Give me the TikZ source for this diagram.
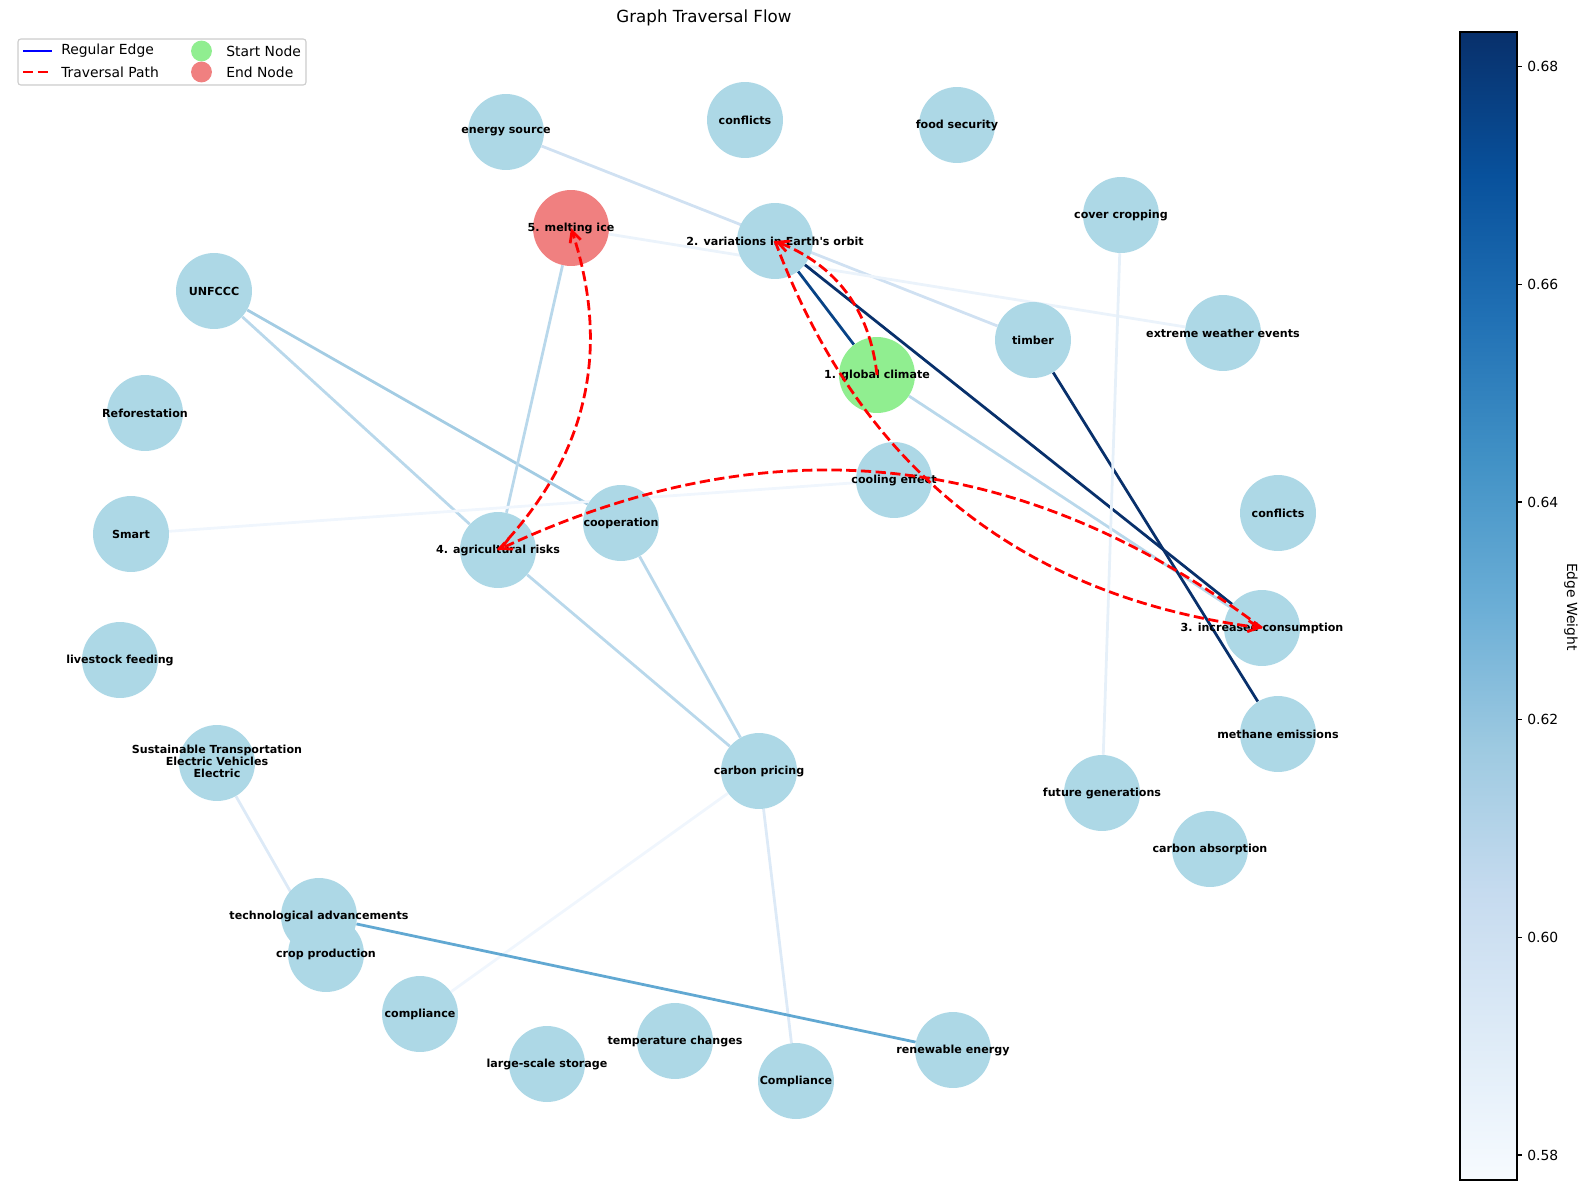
\documentclass[tikz,border=0pt]{standalone}
\usepackage{fontspec}
\setmainfont{DejaVu Sans}
\usepackage{tikz}
\usetikzlibrary{
        arrows.meta,
        backgrounds,
        positioning
    }
\definecolor{nodeblue}{HTML}{ADD8E6}
\definecolor{startgreen}{HTML}{90EE90}
\definecolor{endred}{HTML}{F08080}
\definecolor{wNavy}{HTML}{08306B}
\definecolor{wDeep}{HTML}{084386}
\definecolor{wMid}{HTML}{61A8D2}
\definecolor{wSoft}{HTML}{A3CCE3}
\definecolor{wLight}{HTML}{B9D8EB}
\definecolor{wPale}{HTML}{D0E1F2}
\definecolor{wFaint}{HTML}{DDEAF7}
\definecolor{wHaze}{HTML}{E6F0F9}
\definecolor{wMist}{HTML}{EBF3FB}
\definecolor{wWhite}{HTML}{F0F6FD}
\definecolor{cbA}{HTML}{F7FBFF}
\definecolor{cbB}{HTML}{DEEBF7}
\definecolor{cbC}{HTML}{C6DBEF}
\definecolor{cbD}{HTML}{9ECAE1}
\definecolor{cbE}{HTML}{6BAED6}
\definecolor{cbF}{HTML}{4292C6}
\definecolor{cbG}{HTML}{2171B5}
\definecolor{cbH}{HTML}{08519C}
\definecolor{cbI}{HTML}{08306B}
\pgfdeclareverticalshading{bluesmap}{100bp}{color(0bp)=(cbA); color(25bp)=(cbA);
    color(31.25bp)=(cbB); color(37.5bp)=(cbC); color(43.75bp)=(cbD); color(50bp)=(cbE);
    color(56.25bp)=(cbF); color(62.5bp)=(cbG); color(68.75bp)=(cbH); color(75bp)=(cbI);
    color(100bp)=(cbI)}
\tikzset{>={Straight Barb[length=8pt,width=8pt]},auto}
\tikzset{
    topic/.style={circle,fill=nodeblue,minimum size=54.7pt,inner sep=0pt,
        font=\fontsize{8}{8.3}\selectfont\bfseries,
        execute at begin node={\hbox to 0pt\bgroup\hss},
        execute at end node={\hss\egroup}},
    startnode/.style={topic,fill=startgreen},
    goalnode/.style={topic,fill=endred},
    tag/.style={font=\fontsize{8}{8.3}\selectfont\bfseries,inner sep=0pt},
    link/.style={line width=2pt},
    trail/.style={->,red,line width=2pt,dash pattern=on 7.4pt off 3.2pt,bend right=31},
    keytext/.style={anchor=west,inner sep=0pt,font=\fontsize{10}{12}\selectfont}
}

\begin{document}
\begin{tikzpicture}[x=0.72pt,y=-0.72pt]
\useasboundingbox (0,0) rectangle (1588,1190);
    \node[font=\fontsize{12}{14}\selectfont] (title) at (704,18) {Graph Traversal Flow};

			\node[topic] (energy)  at (506,132)  {energy source};
			\node[topic] (conflA)  at (745,120)  {conflicts};
			\node[topic] (food)    at (957,125)  {food security};
			\node[topic] (cover)   at (1121,215) {cover cropping};
			\node[goalnode] (ice)  at (571,228)  {5. melting ice};
			\node[topic] (orb)     at (775,241)  {2. variations in Earth\textquotesingle s orbit};
			\node[topic] (unfccc)  at (214,291)  {UNFCCC};
			\node[topic] (timber)  at (1033,340) {timber};
			\node[topic] (weather) at (1223,333) {extreme weather events};
			\node[startnode] (glob) at (877,375) {1. global climate};
			\node[topic] (refor)   at (145,413)  {Reforestation};
			\node[topic] (cool)    at (894,480)  {cooling effect};
			\node[topic] (conflB)  at (1278,513) {conflicts};
			\node[topic] (smart)   at (131,534)  {Smart};
			\node[topic] (coop)    at (621,523)  {cooperation};
			\node[topic] (agri)    at (498,550)  {4. agricultural risks};
			\node[topic] (cons)    at (1262,628) {3. increased consumption};
			\node[topic] (live)    at (120,660)  {livestock feeding};
			\node[topic] (meth)    at (1278,734) {methane emissions};
			\node[topic] (transp)  at (217,763)  {\begin{tabular}{@{}c@{}}Sustainable Transportation\\Electric Vehicles\\Electric\end{tabular}};
			\node[topic] (pricing) at (759,771)  {carbon pricing};
			\node[topic] (future)  at (1102,793) {future generations};
			\node[topic] (absorb)  at (1210,849) {carbon absorption};
			\node[topic] (tech)    at (319,916)  {};
			\node[topic] (crop)    at (326,954)  {};
			\node[tag] (techtag)   at (tech)     {technological advancements};
			\node[tag] (croptag)   at (crop)     {crop production};
			\node[topic] (complA)  at (420,1014) {compliance};
			\node[topic] (temp)    at (675,1041) {temperature changes};
			\node[topic] (storage) at (547,1064) {large-scale storage};
			\node[topic] (complB)  at (796,1081) {Compliance};
			\node[topic] (renew)   at (953,1050) {renewable energy};

	\begin{scope}[on background layer]
		\path[link]
				(energy)  edge[wPale]  (timber)
				(ice)     edge[wMist]  (weather)
				(unfccc)  edge[wSoft]  (coop)
				(unfccc)  edge[wLight] (agri)
				(ice)     edge[wLight] (agri)
				(smart)   edge[wWhite] (cool)
				(orb)     edge[wDeep]  (glob)
				(orb)     edge[wNavy]  (cons)
				(glob)    edge[wLight] (cons)
				(timber)  edge[wNavy]  (meth)
				(cover)   edge[wHaze]  (future)
				(agri)    edge[wLight] (pricing)
				(coop)    edge[wLight] (pricing)
				(pricing) edge[wWhite] (complA)
				(pricing) edge[wFaint] (complB)
				(transp)  edge[wFaint] (crop)
				(tech)    edge[wMid]   (renew)
				;
	\end{scope}

		\path
				(glob.center) edge[trail] (orb.center)
				(orb.center)  edge[trail] (cons.center)
				(cons.center) edge[trail] (agri.center)
				(agri.center) edge[trail] (ice.center)
				;

    \draw[line width=0.8pt,draw=black!20,fill=white,rounded corners=2pt] (18,39) rectangle (306,85);
    \draw[blue,line width=2pt] (23,51) -- (52,51);
    \draw[red,line width=2pt,dash pattern=on 7.4pt off 3.2pt] (23,72) -- (52,72);
    \fill[startgreen] (201.5,51) circle (7.5pt);
    \fill[endred] (201.5,72) circle (7.5pt);
    \node[keytext] (keyedge)  at (61,51)  {Regular Edge};
    \node[keytext] (keypath)  at (61,72)  {Traversal Path};
    \node[keytext] (keystart) at (226,51) {Start Node};
    \node[keytext] (keyend)   at (226,72) {End Node};

    \shade[shading=bluesmap] (1460,32) rectangle (1517,1180);
    \draw[line width=0.8pt] (1460,32) rectangle (1517,1180);
    \foreach \val/\ypos in {0.58/1155,0.60/937.3,0.62/719.6,0.64/502,0.66/284.2,0.68/66.5}
        \draw[line width=0.8pt] (1517,\ypos) -- ++(4.86,0)
            node[keytext,xshift=3.5pt] {\val};
    \node[rotate=-90,font=\fontsize{10}{12}\selectfont] (cblabel) at (1571,607) {Edge Weight};
\end{tikzpicture}
\end{document}
